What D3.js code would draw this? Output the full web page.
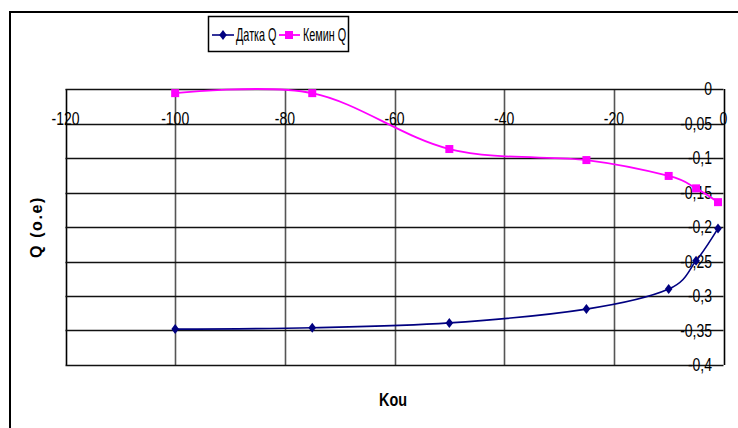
<!DOCTYPE html>
<html><head><meta charset="utf-8">
<script src="https://cdn.jsdelivr.net/npm/d3@7"></script>
<style>
html,body{margin:0;padding:0;background:#fff;}
svg{display:block;}
</style></head>
<body>
<svg id="c" width="738" height="428"></svg>
<script>
const kou = [-100, -75, -50, -25, -10, -5, -1];
const datkaQ = [-0.348, -0.346, -0.339, -0.319, -0.290, -0.249, -0.202];
const keminQ = [-0.006, -0.006, -0.087, -0.103, -0.126, -0.144, -0.164];
const seriesNames = ["Датка Q", "Кемин Q"];
const xTicks = [-120, -100, -80, -60, -40, -20, 0];
const yTicks = [0, -0.05, -0.1, -0.15, -0.2, -0.25, -0.3, -0.35, -0.4];
const xTitle = "Kou";
const yTitle = "Q (o.e)";

const svg = d3.select("#c");
const x = d3.scaleLinear().domain([-120, 0]).range([65.5, 723.5]);
const y = d3.scaleLinear().domain([0, -0.4]).range([89, 365]);
const fmt = v => (v === 0 ? "0" : String(v).replace(".", ","));
const FONT = '"Liberation Sans", Arial, sans-serif';

function ntext(g, px, py, txt, opts = {}) {
  return g.append("text")
    .attr("transform", `translate(${px},${py}) scale(${opts.sx || 0.8},1)`)
    .attr("text-anchor", opts.anchor || "start")
    .attr("font-family", FONT)
    .attr("font-size", opts.size || 17.5)
    .attr("font-weight", opts.weight || "normal")
    .text(txt);
}

// outer chart frame (left + top)
svg.append("path").attr("d", "M10,428 V12 H738").attr("fill", "none")
  .attr("stroke", "#000").attr("stroke-width", 2);

// vertical gridlines
svg.append("g").selectAll("line").data(xTicks).join("line")
  .attr("x1", d => Math.round(x(d)) + 0.5).attr("x2", d => Math.round(x(d)) + 0.5)
  .attr("y1", y(0)).attr("y2", y(-0.4))
  .attr("stroke", d => (d === -120 || d === 0) ? "#000" : "#555").attr("stroke-width", 1.6);

// horizontal gridlines
svg.append("g").selectAll("line").data(yTicks).join("line")
  .attr("x1", x(-120)).attr("x2", x(0))
  .attr("y1", d => Math.round(y(d)) + 0.5).attr("y2", d => Math.round(y(d)) + 0.5)
  .attr("stroke", "#111").attr("stroke-width", 1.6);

// x tick labels (axis crossing at -0.05, labels above)
const gx = svg.append("g");
xTicks.forEach(d => ntext(gx, x(d), y(-0.05) + 1.5, fmt(d), {anchor: "middle"}));

// y tick labels
const gy = svg.append("g");
yTicks.forEach(d => ntext(gy, 712, y(d) + 6.3, fmt(d), {anchor: "end"}));

const curve = d3.curveCardinal.tension(0);
const line = d3.line().x(d => x(d[0])).y(d => y(d[1])).curve(curve);
const dk = kou.map((k, i) => [k, datkaQ[i]]);
const km = kou.map((k, i) => [k, keminQ[i]]);

svg.append("path").attr("d", line(km)).attr("fill", "none")
  .attr("stroke", "#ff00ff").attr("stroke-width", 1.8);
svg.append("path").attr("d", line(dk)).attr("fill", "none")
  .attr("stroke", "#000080").attr("stroke-width", 1.6);

const diamond = (cx, cy) => `M${cx},${cy - 5}L${cx + 3.8},${cy}L${cx},${cy + 5}L${cx - 3.8},${cy}Z`;
svg.append("g").selectAll("path").data(dk).join("path")
  .attr("d", d => diamond(x(d[0]), y(d[1]))).attr("fill", "#000080");
svg.append("g").selectAll("rect").data(km).join("rect")
  .attr("x", d => x(d[0]) - 4).attr("y", d => y(d[1]) - 4)
  .attr("width", 8).attr("height", 8).attr("fill", "#ff00ff");

// axis titles
ntext(svg, 393, 406, xTitle, {anchor: "middle", weight: "bold", size: 18});
svg.append("text").attr("transform", "translate(42,227) rotate(-90)")
  .attr("text-anchor", "middle").attr("font-family", FONT)
  .attr("font-weight", "bold").attr("font-size", 16).attr("letter-spacing", 1.6).text(yTitle);

// legend
const lg = svg.append("g").attr("class", "legend");
lg.append("path").attr("d", "M208.5,16.5H348.5V51.5H208.5Z")
  .attr("fill", "#fff").attr("stroke", "#000").attr("stroke-width", 1.5);
lg.append("line").attr("x1", 212).attr("x2", 234).attr("y1", 35).attr("y2", 35)
  .attr("stroke", "#000080").attr("stroke-width", 1.6);
lg.append("path").attr("d", diamond(223, 35)).attr("fill", "#000080");
ntext(lg, 236, 41, seriesNames[0], {sx: 0.62});
lg.append("line").attr("x1", 279).attr("x2", 300).attr("y1", 35).attr("y2", 35)
  .attr("stroke", "#ff00ff").attr("stroke-width", 1.8);
lg.append("rect").attr("x", 285).attr("y", 31).attr("width", 8).attr("height", 8).attr("fill", "#ff00ff");
ntext(lg, 303, 41, seriesNames[1], {sx: 0.62});
</script>
</body></html>
